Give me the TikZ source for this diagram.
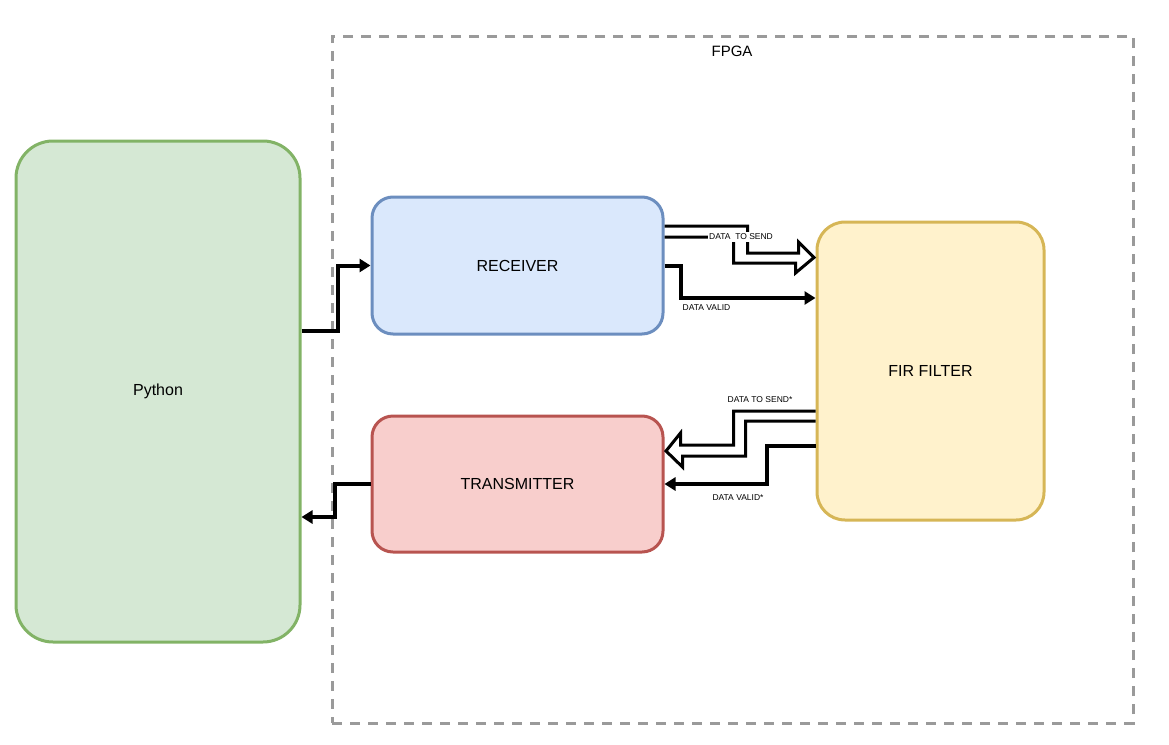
\documentclass[tikz,border=0pt]{standalone}
\usepackage{fontspec}
\setmainfont{Liberation Sans}
\usetikzlibrary{arrows.meta,calc}
\definecolor{gfill}{HTML}{D5E8D4}\definecolor{gline}{HTML}{82B366}
\definecolor{bfill}{HTML}{DAE8FC}\definecolor{bline}{HTML}{6C8EBF}
\definecolor{rfill}{HTML}{F8CECC}\definecolor{rline}{HTML}{B85450}
\definecolor{yfill}{HTML}{FFF2CC}\definecolor{yline}{HTML}{D6B656}
\definecolor{fpgaline}{HTML}{9A9A9A}
\tikzset{
  blk/.style={draw, line width=3pt, align=center, inner sep=0pt, font=\fontsize{16}{19}\selectfont},
  conn/.style={line width=4pt, -{Triangle[length=11pt,width=13pt]}, line join=miter},
  flex/.style={line width=3pt, line join=miter, miter limit=10},
  lbl/.style={font=\fontsize{8.5}{10}\selectfont, inner sep=1.5pt},
}
\begin{document}
\begin{tikzpicture}[x=1pt,y=-1pt]
\useasboundingbox (0,0) rectangle (1169,744);
% FPGA container
\node[draw=fpgaline, line width=3pt, dash pattern=on 10pt off 8pt, minimum width=801pt, minimum height=687pt, inner sep=0pt] (fpga) at (732.5,379.5) {};
\node[font=\fontsize{15}{18}\selectfont, anchor=center] (fpgalbl) at (732,51) {FPGA};
% blocks
\node[blk, fill=gfill, draw=gline, rounded corners=37pt, minimum width=284pt, minimum height=501pt] (py) at (158,391.5) {Python};
\node[blk, fill=bfill, draw=bline, rounded corners=21pt, minimum width=291pt, minimum height=137pt] (rec) at (517.5,265.5) {RECEIVER};
\node[blk, fill=rfill, draw=rline, rounded corners=21pt, minimum width=291pt, minimum height=136pt] (tx) at (517.5,484) {TRANSMITTER};
\node[blk, fill=yfill, draw=yline, rounded corners=28pt, minimum width=227pt, minimum height=298pt] (fir) at (930.5,371) {FIR FILTER};
% Python <-> FPGA blocks
\draw[conn] ([yshift=60.5pt]py.east) -- ++(36,0) |- (rec.west);
\draw[conn] (tx.west) -- ++(-36,0) |- ([yshift=-125.5pt]py.east);
% data valid (RX -> FIR)
\draw[conn] (rec.east) -- ++(16,0) |- ([yshift=73pt]fir.west);
\node[lbl] (dv) at (706.5,308) {DATA VALID};
% data to send (RX -> FIR), hollow arrow
\coordinate (s1) at ([yshift=39.5pt]rec.east);
\coordinate (e1) at ([shift={(-1.5pt,113.5pt)}]fir.west);
\coordinate (s1b) at ([yshift=28.5pt]rec.east);
\draw[flex] (s1) -- ++(83,0) -- ++(0,27) -- ++(51,0) -- ++(0,-11) -- (e1)
  -- ++(-18.5,15.5) -- ++(0,-10) -- ++(-62,0) -- ++(0,-26) -- (s1b);
\node[lbl, fill=white] (dts) at (741,237) {DATA\ \ TO SEND};
% data valid* (FIR -> TX)
\draw[conn] ([yshift=-75pt]fir.west) -- ++(-49,0) |- (tx.east);
\node[lbl] (dvs) at (738,498) {DATA VALID*};
% data to send* (FIR -> TX), hollow arrow
\coordinate (s2) at ([yshift=-40pt]fir.west);
\coordinate (e2) at ([shift={(1.5pt,33pt)}]tx.east);
\coordinate (s2b) at ([yshift=-50pt]fir.west);
\draw[flex] (s2) -- ++(-82,0) -- ++(0,34) -- ++(-53,0) -- ++(0,-12) -- (e2)
  -- ++(16.5,16) -- ++(0,-11) -- ++(63,0) -- ++(0,-35) -- (s2b);
\node[lbl] (dtss) at (760,400) {DATA TO SEND*};
\end{tikzpicture}
\end{document}
